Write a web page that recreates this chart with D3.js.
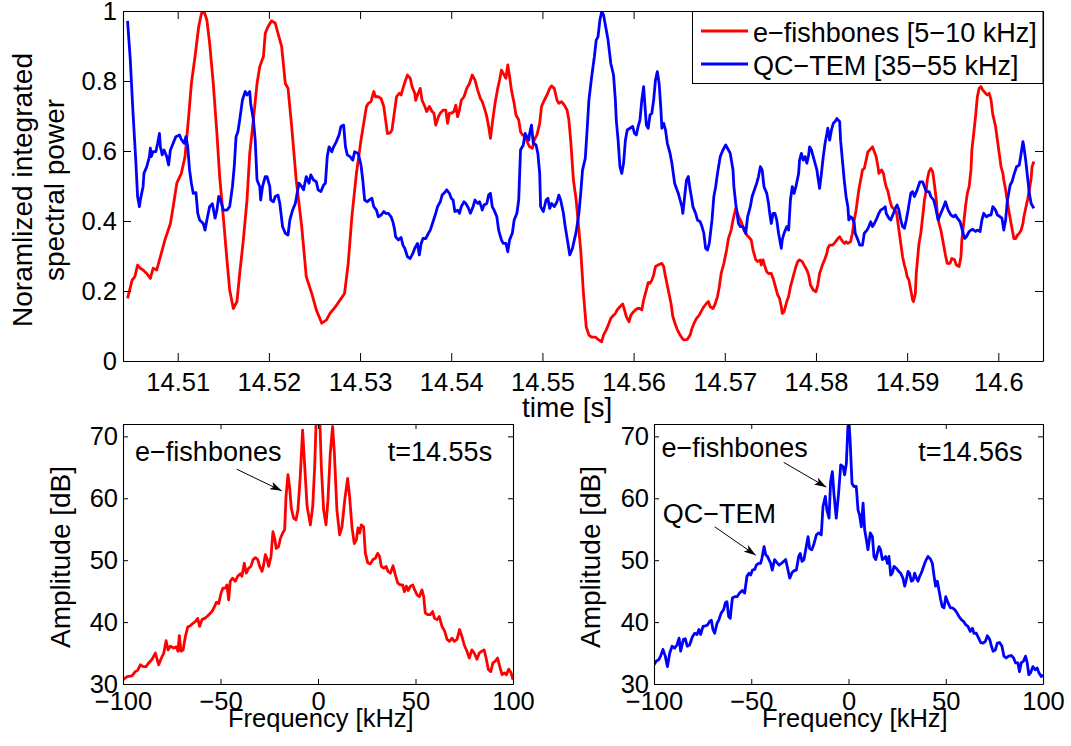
<!DOCTYPE html>
<html><head><meta charset="utf-8">
<script src="https://cdn.jsdelivr.net/npm/d3@7"></script>
<style>
body{margin:0;background:#fff;}
svg text{font-family:"Liberation Sans",Arial,Helvetica,sans-serif;fill:#000;}
</style></head><body>
<script>
// ---------------- DATA ----------------
const timeTicks = [14.51,14.52,14.53,14.54,14.55,14.56,14.57,14.58,14.59,14.60];
const powerTicks = [0,0.2,0.4,0.6,0.8,1];
const freqTicks = [-100,-50,0,50,100];
const ampTicks = [30,40,50,60,70];
const legendLabels = ["e\u2212fishbones [5\u221210 kHz]","QC\u2212TEM [35\u221255 kHz]"];

// e-fishbones [5-10 kHz] : [time (s), normalized power]
const fishbonePower = [
[14.5045,0.179],[14.5050,0.231],[14.5053,0.241],[14.5056,0.274],[14.5059,0.265],[14.5062,0.26],[14.5066,0.25],[14.5070,0.236],[14.5073,0.265],[14.5077,0.26],
[14.5081,0.298],[14.5086,0.346],[14.5092,0.393],[14.5095,0.44],[14.5099,0.508],[14.5104,0.536],[14.5108,0.584],[14.5112,0.698],[14.5115,0.793],[14.5119,0.87],
[14.5123,0.955],[14.5126,0.993],[14.5129,0.998],[14.5132,0.974],[14.5135,0.908],[14.5139,0.793],[14.5143,0.65],[14.5146,0.527],[14.5150,0.412],[14.5154,0.289],
[14.5157,0.203],[14.5161,0.15],[14.5165,0.17],[14.5168,0.25],[14.5172,0.346],[14.5176,0.46],[14.5179,0.593],[14.5183,0.689],[14.5187,0.793],[14.5190,0.841],
[14.5194,0.87],[14.5196,0.936],[14.5199,0.955],[14.5203,0.972],[14.5207,0.965],[14.5210,0.936],[14.5214,0.898],[14.5218,0.793],[14.5221,0.779],[14.5225,0.67],
[14.5230,0.517],[14.5236,0.384],[14.5241,0.241],[14.5247,0.193],[14.5252,0.146],[14.5258,0.108],[14.5263,0.117],[14.5267,0.136],[14.5273,0.155],[14.5278,0.174],
[14.5283,0.193],[14.5287,0.279],[14.5291,0.412],[14.5296,0.536],
[14.5301,0.631],[14.5304,0.679],[14.5307,0.727],[14.5309,0.736],[14.5312,0.741],[14.5315,0.77],[14.5317,0.755],[14.5320,0.755],[14.5323,0.75],[14.5326,0.727],
[14.5328,0.689],[14.5330,0.65],[14.5333,0.652],[14.5335,0.66],[14.5338,0.717],[14.5340,0.755],[14.5343,0.765],[14.5345,0.76],[14.5347,0.779],[14.5350,0.803],
[14.5352,0.817],[14.5355,0.808],[14.5357,0.784],[14.5360,0.765],[14.5361,0.745],[14.5363,0.76],[14.5366,0.779],[14.5368,0.745],[14.5371,0.727],[14.5373,0.713],
[14.5376,0.727],[14.5379,0.713],[14.5381,0.708],[14.5383,0.674],[14.5386,0.698],[14.5388,0.708],[14.5391,0.717],[14.5394,0.717],[14.5396,0.679],[14.5398,0.708],
[14.5400,0.708],[14.5403,0.713],[14.5405,0.731],[14.5407,0.698],[14.5409,0.717],[14.5411,0.745],[14.5414,0.755],[14.5417,0.779],[14.5420,0.793],[14.5423,0.817],
[14.5426,0.803],[14.5429,0.774],[14.5432,0.75],[14.5434,0.741],[14.5437,0.717],[14.5439,0.698],[14.5441,0.67],[14.5443,0.636],[14.5445,0.679],[14.5448,0.736],
[14.5451,0.779],[14.5453,0.803],[14.5455,0.831],[14.5457,0.822],[14.5460,0.808],[14.5462,0.846],[14.5464,0.812],[14.5466,0.774],[14.5469,0.736],[14.5471,0.703],
[14.5474,0.689],[14.5476,0.655],[14.5478,0.646],[14.5481,0.643],[14.5484,0.622],[14.5486,0.612],[14.5489,0.608],[14.5491,0.631],[14.5494,0.646],[14.5497,0.679],
[14.5499,0.727],[14.5502,0.745],[14.5505,0.76],[14.5508,0.779],[14.5510,0.786],[14.5513,0.779],[14.5516,0.745],[14.5518,0.736],[14.5521,0.741],[14.5524,0.731],
[14.5527,0.717],[14.5529,0.689],[14.5531,0.631],[14.5534,0.517],[14.5537,0.46],[14.5539,0.403],[14.5542,0.317],
[14.5545,0.193],[14.5548,0.098],[14.5551,0.074],[14.5554,0.068],[14.5558,0.068],[14.5561,0.062],[14.5565,0.055],[14.5567,0.074],[14.5570,0.089],[14.5573,0.108],
[14.5575,0.122],[14.5578,0.131],[14.5580,0.136],[14.5582,0.146],[14.5585,0.155],[14.5588,0.163],[14.5590,0.146],[14.5592,0.127],[14.5595,0.112],[14.5597,0.131],
[14.5600,0.141],[14.5602,0.146],[14.5604,0.15],[14.5607,0.15],[14.5609,0.146],[14.5611,0.174],[14.5614,0.203],[14.5616,0.224],[14.5618,0.222],[14.5620,0.231],
[14.5622,0.246],[14.5624,0.27],[14.5627,0.274],[14.5631,0.279],[14.5633,0.27],[14.5635,0.241],[14.5638,0.203],[14.5641,0.165],[14.5643,0.127],[14.5646,0.103],
[14.5648,0.089],[14.5651,0.074],[14.5654,0.062],[14.5656,0.06],[14.5659,0.062],[14.5662,0.074],[14.5664,0.093],[14.5667,0.112],[14.5669,0.122],[14.5672,0.131],
[14.5675,0.146],[14.5677,0.155],[14.5680,0.165],[14.5682,0.17],[14.5684,0.155],[14.5687,0.15],[14.5689,0.16],[14.5692,0.184],[14.5694,0.212],[14.5696,0.25],
[14.5699,0.279],[14.5702,0.317],[14.5704,0.35],[14.5707,0.374],[14.5709,0.403],[14.5712,0.436],[14.5714,0.422],[14.5716,0.408],[14.5718,0.398],[14.5721,0.374],
[14.5724,0.36],[14.5726,0.355],[14.5729,0.346],[14.5731,0.317],[14.5734,0.289],[14.5736,0.284],[14.5739,0.289],[14.5740,0.274],[14.5742,0.289],[14.5744,0.27],
[14.5746,0.255],[14.5748,0.25],[14.5751,0.25],[14.5753,0.236],[14.5756,0.208],[14.5758,0.189],[14.5760,0.179],[14.5762,0.155],[14.5763,0.136],[14.5765,0.141],
[14.5768,0.17],[14.5770,0.184],[14.5772,0.212],[14.5775,0.241],[14.5778,0.27],[14.5780,0.284],[14.5782,0.289],[14.5785,0.284],[14.5787,0.274],[14.5790,0.26],
[14.5792,0.246],[14.5794,0.217],[14.5797,0.203],[14.5800,0.198],[14.5802,0.217],[14.5804,0.25],[14.5807,0.274],[14.5810,0.293],[14.5812,0.308],[14.5813,0.322],
[14.5815,0.331],[14.5818,0.331],[14.5820,0.336],[14.5823,0.346],[14.5824,0.35],[14.5826,0.355],
[14.5828,0.346],[14.5831,0.336],[14.5833,0.341],[14.5835,0.336],[14.5838,0.341],[14.5840,0.365],[14.5842,0.403],[14.5844,0.431],[14.5846,0.47],[14.5847,0.489],
[14.5849,0.517],[14.5851,0.546],[14.5853,0.55],[14.5855,0.574],[14.5857,0.598],[14.5859,0.603],[14.5862,0.612],[14.5864,0.598],[14.5866,0.584],[14.5868,0.555],
[14.5869,0.536],[14.5872,0.546],[14.5874,0.536],[14.5876,0.508],[14.5877,0.498],[14.5879,0.484],[14.5881,0.46],[14.5883,0.441],[14.5885,0.436],[14.5888,0.427],
[14.5889,0.412],[14.5891,0.374],[14.5893,0.336],[14.5895,0.298],[14.5897,0.274],[14.5899,0.255],[14.5900,0.241],[14.5902,0.231],[14.5904,0.203],[14.5906,0.174],
[14.5907,0.17],[14.5909,0.193],[14.5910,0.25],[14.5912,0.308],[14.5913,0.336],[14.5915,0.365],[14.5917,0.412],[14.5919,0.46],[14.5921,0.489],[14.5922,0.517],
[14.5924,0.541],[14.5926,0.55],[14.5928,0.541],[14.5930,0.503],[14.5932,0.46],[14.5933,0.422],[14.5935,0.393],[14.5937,0.374],[14.5939,0.346],[14.5941,0.317],
[14.5942,0.303],[14.5944,0.279],[14.5947,0.279],[14.5949,0.293],[14.5952,0.289],[14.5954,0.274],[14.5957,0.27],[14.5959,0.298],[14.5960,0.346],[14.5962,0.393],
[14.5964,0.441],[14.5966,0.479],[14.5968,0.498],[14.5970,0.546],[14.5971,0.603],[14.5973,0.65],[14.5975,0.698],[14.5977,0.755],[14.5979,0.779],[14.5981,0.784],
[14.5983,0.774],[14.5986,0.765],[14.5988,0.76],[14.5990,0.765],[14.5992,0.746],[14.5994,0.703],[14.5995,0.693],[14.5997,0.67],[14.5999,0.631],[14.6001,0.593],
[14.6003,0.555],[14.6005,0.536],[14.6006,0.517],[14.6008,0.489],[14.6010,0.455],[14.6012,0.422],[14.6014,0.393],[14.6016,0.365],[14.6017,0.35],[14.6019,0.35],
[14.6021,0.36],[14.6023,0.365],[14.6025,0.374],[14.6027,0.393],[14.6028,0.412],[14.6030,0.436],[14.6032,0.46],[14.6034,0.489],[14.6036,0.522],[14.6037,0.555],
[14.6039,0.57]
];

// QC-TEM [35-55 kHz] : [time (s), normalized power]
const qcTemPower = [
[14.5045,0.972],[14.5048,0.86],[14.5051,0.708],[14.5054,0.574],[14.5056,0.47],[14.5058,0.441],[14.5059,0.46],[14.5062,0.498],[14.5063,0.536],[14.5066,0.555],
[14.5069,0.584],[14.5070,0.608],[14.5071,0.584],[14.5073,0.598],[14.5076,0.598],[14.5078,0.622],[14.5080,0.65],[14.5081,0.612],[14.5083,0.589],[14.5085,0.603],
[14.5088,0.584],[14.5090,0.56],[14.5092,0.603],[14.5095,0.622],[14.5098,0.641],[14.5102,0.646],[14.5104,0.633],[14.5107,0.622],[14.5109,0.641],[14.5111,0.612],
[14.5113,0.546],[14.5115,0.508],[14.5117,0.479],[14.5120,0.481],[14.5122,0.422],[14.5124,0.403],[14.5128,0.393],[14.5130,0.374],[14.5132,0.403],[14.5135,0.441],
[14.5138,0.449],[14.5141,0.408],[14.5143,0.431],[14.5145,0.47],[14.5147,0.46],[14.5150,0.431],[14.5154,0.431],[14.5157,0.441],[14.5160,0.498],[14.5162,0.555],
[14.5164,0.641],[14.5166,0.655],[14.5168,0.689],[14.5171,0.746],[14.5174,0.77],[14.5176,0.76],[14.5179,0.77],[14.5180,0.736],[14.5183,0.689],[14.5185,0.631],
[14.5187,0.517],[14.5190,0.498],[14.5191,0.46],[14.5193,0.498],[14.5196,0.527],[14.5198,0.527],[14.5201,0.498],[14.5202,0.46],[14.5205,0.455],[14.5207,0.47],
[14.5210,0.474],[14.5212,0.45],[14.5215,0.384],[14.5218,0.365],[14.5221,0.36],[14.5223,0.403],[14.5226,0.431],[14.5229,0.45],[14.5231,0.479],[14.5233,0.508],
[14.5236,0.498],[14.5238,0.489],[14.5241,0.527],[14.5244,0.508],[14.5246,0.532],[14.5249,0.517],[14.5252,0.512],[14.5254,0.489],[14.5257,0.484],[14.5260,0.503],
[14.5262,0.508],[14.5264,0.584],[14.5266,0.612],[14.5269,0.598],[14.5271,0.612],[14.5274,0.627],[14.5277,0.646],[14.5279,0.67],[14.5282,0.674],
[14.5284,0.612],[14.5286,0.589],[14.5289,0.584],[14.5292,0.574],[14.5294,0.598],[14.5298,0.593],[14.5301,0.56],[14.5303,0.517],[14.5305,0.46],[14.5308,0.455],
[14.5310,0.46],[14.5313,0.465],[14.5315,0.441],[14.5318,0.431],[14.5320,0.412],[14.5323,0.417],[14.5326,0.427],[14.5328,0.422],[14.5331,0.422],[14.5334,0.412],
[14.5336,0.398],[14.5338,0.374],[14.5339,0.355],[14.5342,0.346],[14.5345,0.353],[14.5347,0.331],[14.5349,0.322],[14.5352,0.298],[14.5355,0.293],[14.5358,0.308],
[14.5360,0.322],[14.5363,0.336],[14.5365,0.303],[14.5367,0.336],[14.5369,0.35],[14.5372,0.35],[14.5375,0.365],[14.5377,0.374],[14.5380,0.398],[14.5383,0.422],
[14.5385,0.441],[14.5388,0.455],[14.5390,0.474],[14.5392,0.479],[14.5395,0.489],[14.5398,0.479],[14.5400,0.465],[14.5402,0.46],[14.5404,0.427],[14.5407,0.431],
[14.5409,0.422],[14.5411,0.441],[14.5414,0.455],[14.5416,0.45],[14.5419,0.436],[14.5421,0.422],[14.5424,0.441],[14.5426,0.46],[14.5429,0.45],[14.5431,0.455],
[14.5433,0.441],[14.5434,0.431],[14.5436,0.446],[14.5439,0.45],[14.5441,0.474],[14.5443,0.479],[14.5445,0.441],[14.5447,0.431],[14.5450,0.412],[14.5452,0.374],
[14.5455,0.346],[14.5457,0.336],[14.5460,0.336],[14.5462,0.312],[14.5464,0.346],[14.5467,0.365],[14.5469,0.403],[14.5472,0.422],[14.5474,0.46],[14.5476,0.603],
[14.5479,0.617],[14.5481,0.65],[14.5483,0.641],[14.5485,0.631],[14.5486,0.65],[14.5488,0.674],[14.5490,0.622],[14.5493,0.617],[14.5495,0.593],[14.5497,0.536],
[14.5498,0.441],[14.5501,0.427],[14.5504,0.46],[14.5506,0.465],[14.5508,0.436],[14.5510,0.45],[14.5513,0.441],[14.5516,0.455],[14.5518,0.474],[14.5520,0.46],
[14.5523,0.422],[14.5525,0.384],[14.5528,0.336],[14.5530,0.303],[14.5533,0.322],[14.5535,0.346],[14.5537,0.369],[14.5540,0.422],[14.5542,0.479],[14.5544,0.546],
[14.5547,0.579],[14.5549,0.66],[14.5551,0.746],[14.5554,0.812],[14.5557,0.87],[14.5559,0.917],[14.5561,0.927],
[14.5563,0.974],[14.5565,0.998],[14.5567,0.989],[14.5570,0.946],[14.5572,0.917],[14.5575,0.85],[14.5578,0.817],[14.5580,0.746],[14.5581,0.689],[14.5583,0.631],
[14.5585,0.555],[14.5587,0.536],[14.5589,0.565],[14.5591,0.631],[14.5593,0.66],[14.5596,0.665],[14.5599,0.67],[14.5601,0.65],[14.5603,0.646],[14.5605,0.67],
[14.5607,0.689],[14.5609,0.746],[14.5611,0.784],[14.5612,0.746],[14.5614,0.674],[14.5616,0.665],[14.5618,0.703],[14.5620,0.708],[14.5622,0.746],[14.5624,0.803],
[14.5626,0.827],[14.5628,0.793],[14.5630,0.717],[14.5631,0.665],[14.5633,0.679],[14.5635,0.66],[14.5637,0.622],[14.5640,0.593],[14.5642,0.565],[14.5645,0.508],
[14.5647,0.493],[14.5649,0.479],[14.5651,0.46],[14.5653,0.441],[14.5654,0.422],[14.5656,0.47],[14.5658,0.517],[14.5660,0.527],[14.5662,0.489],[14.5664,0.46],
[14.5665,0.441],[14.5668,0.422],[14.5670,0.403],[14.5673,0.398],[14.5675,0.384],[14.5677,0.365],[14.5679,0.322],[14.5681,0.317],[14.5683,0.336],[14.5686,0.403],
[14.5688,0.47],[14.5690,0.498],[14.5692,0.536],[14.5695,0.584],[14.5698,0.603],[14.5701,0.617],[14.5704,0.603],[14.5706,0.593],[14.5709,0.546],[14.5710,0.498],
[14.5712,0.45],[14.5715,0.393],[14.5717,0.384],[14.5720,0.384],[14.5723,0.365],[14.5725,0.412],[14.5728,0.441],[14.5730,0.47],[14.5733,0.493],[14.5735,0.508],
[14.5737,0.527],[14.5739,0.555],[14.5741,0.546],[14.5743,0.498],[14.5746,0.479],[14.5748,0.45],[14.5749,0.427],[14.5751,0.393],[14.5753,0.422],[14.5755,0.422],
[14.5757,0.403],[14.5759,0.365],[14.5762,0.322],[14.5763,0.346],[14.5765,0.365],[14.5768,0.384],[14.5770,0.374],[14.5772,0.46],[14.5774,0.498],[14.5776,0.479],
[14.5778,0.498],[14.5781,0.536],[14.5782,0.574],[14.5784,0.593],[14.5786,0.574],[14.5788,0.584],[14.5790,0.565],[14.5792,0.589],[14.5793,0.612],[14.5795,0.603],
[14.5797,0.584],[14.5799,0.565],[14.5801,0.546],[14.5802,0.527],[14.5804,0.493],[14.5806,0.536],[14.5808,0.584],[14.5810,0.622],[14.5812,0.65],[14.5813,0.665],
[14.5815,0.631],[14.5817,0.66],[14.5819,0.679],[14.5821,0.684],[14.5823,0.693],[14.5824,0.689],
[14.5826,0.684],[14.5827,0.631],[14.5829,0.574],[14.5831,0.517],[14.5833,0.47],[14.5835,0.441],[14.5836,0.403],[14.5838,0.412],[14.5840,0.408],[14.5842,0.393],
[14.5843,0.365],[14.5846,0.346],[14.5848,0.331],[14.5851,0.331],[14.5853,0.365],[14.5856,0.374],[14.5858,0.384],[14.5860,0.398],[14.5862,0.384],[14.5864,0.393],
[14.5866,0.403],[14.5869,0.422],[14.5871,0.431],[14.5874,0.436],[14.5876,0.441],[14.5877,0.422],[14.5880,0.408],[14.5882,0.403],[14.5885,0.422],[14.5887,0.436],
[14.5889,0.446],[14.5891,0.431],[14.5893,0.403],[14.5895,0.384],[14.5897,0.379],[14.5899,0.403],[14.5901,0.431],[14.5904,0.479],[14.5906,0.484],[14.5908,0.47],
[14.5911,0.489],[14.5914,0.512],[14.5917,0.512],[14.5919,0.498],[14.5921,0.484],[14.5924,0.484],[14.5926,0.47],[14.5929,0.46],[14.5931,0.441],[14.5934,0.403],
[14.5937,0.422],[14.5940,0.441],[14.5942,0.455],[14.5945,0.431],[14.5948,0.417],[14.5951,0.412],[14.5953,0.417],[14.5955,0.408],[14.5958,0.398],[14.5960,0.379],
[14.5963,0.35],[14.5965,0.355],[14.5968,0.37],[14.5970,0.374],[14.5972,0.376],[14.5975,0.37],[14.5977,0.374],[14.5980,0.37],[14.5982,0.403],[14.5984,0.422],
[14.5987,0.412],[14.5990,0.417],[14.5992,0.417],[14.5994,0.441],[14.5997,0.431],[14.5999,0.417],[14.6002,0.412],[14.6004,0.408],[14.6006,0.374],[14.6008,0.403],
[14.6010,0.46],[14.6013,0.503],[14.6015,0.512],[14.6017,0.531],[14.6020,0.555],[14.6023,0.56],[14.6025,0.593],[14.6027,0.627],[14.6028,0.612],[14.6030,0.574],
[14.6032,0.527],[14.6034,0.479],[14.6036,0.45],[14.6039,0.436]
];

// Spectrum at t=14.55 s : [frequency (kHz), amplitude (dB)]
const spectrum1455 = [
[-100,30.7],[-97.9,31.2],[-95.4,31.3],[-93.7,32.0],[-92.5,32.2],[-91.1,33.1],[-89.7,32.8],[-88.2,32.8],[-86.8,33.4],[-85.1,34.0],
[-83.4,35.0],[-81.7,33.1],[-80.3,34.2],[-79.1,35.0],[-77.9,37.0],[-76.9,35.5],[-75.7,36.1],[-74.0,35.8],[-72.6,36.0],[-71.8,35.3],
[-71.1,37.8],[-70.3,35.3],[-69.2,35.5],[-68.0,37.7],[-66.8,39.2],[-65.5,39.4],[-64.1,39.8],[-62.9,40.1],[-61.7,40.6],[-60.7,39.3],
[-59.5,40.4],[-58.1,40.6],[-56.9,40.9],[-55.6,41.3],[-54.4,41.7],[-53.2,42.4],[-52.1,43.2],[-50.9,43.0],[-49.7,44.7],[-48.7,45.5],
[-47.5,45.5],[-46.7,46.0],[-45.8,43.6],[-45.0,46.6],[-43.8,47.1],[-42.4,46.6],[-41.2,47.4],[-39.8,47.8],[-39.0,47.4],[-37.8,49.5],
[-36.8,47.9],[-35.6,48.7],[-34.4,49.0],[-33.3,50.1],[-32.1,50.4],[-30.9,50.1],[-29.9,49.0],[-28.7,48.2],[-27.9,49.2],[-27.0,50.9],
[-26.2,50.3],[-25.3,49.0],[-24.1,50.6],[-23.1,54.6],[-22.2,53.5],[-21.4,51.9],[-20.2,52.2],[-19.3,53.5],[-18.1,54.4],[-17.1,54.9],
[-16.4,60.3],[-15.4,63.8],[-14.5,61.6],[-13.7,58.4],[-12.5,56.8],[-11.3,56.5],[-10.3,58.1],[-9.1,63.5],[-7.9,71.0],[-6.8,65.1],
[-5.6,58.7],[-3.9,55.7],[-2.7,58.7],[-1.7,65.1],[0,82],[1.7,65.1],[2.9,58.1],[4.1,55.7],[5.1,59.7],[6.3,67.3],
[7.5,71.6],[8.4,67.3],[9.7,58.1],[11.1,54.1],[12.3,55.4],[13.7,59.7],[15.2,63.2],[16.2,60.3],[17.4,55.4],[18.6,52.7],
[19.7,53.3],[20.5,55.2],[21.4,54.4],[22.2,55.7],[23.4,55.4],[24.3,51.1],[25.5,49.6],[26.8,49.4],[28.2,50.1],[29.4,50.3],
[30.6,51.1],[31.6,50.6],[32.5,49.0],[33.7,48.7],[34.9,49.0],[35.9,48.2],[37.1,47.9],[38.5,49.1],[39.7,47.6],[40.9,46.3],
[42.2,46.0],[43.4,46.0],[44.3,44.9],[45.3,45.8],[46.2,45.1],[47.4,45.8],[48.6,46.0],[49.6,45.2],[50.8,44.4],[52.0,44.1],
[53.3,45.2],[54.2,44.1],[55.0,41.5],[56.2,41.2],[57.6,41.2],[58.8,41.7],[59.8,40.6],[61.0,40.4],[62.2,40.9],[63.6,39.3],
[65.0,38.5],[66.2,37.2],[67.4,36.9],[68.7,37.4],[69.9,36.9],[71.3,37.2],[72.6,38.8],[73.8,37.7],[75.0,36.3],[76.4,35.3],
[77.6,34.2],[78.9,35.5],[80.1,35.0],[81.5,34.0],[82.7,35.0],[84.0,35.3],[85.2,35.5],[86.2,34.2],[87.4,32.3],[88.6,32.0],
[89.7,33.4],[90.9,33.7],[92.1,34.2],[93.2,32.8],[94.4,31.5],[95.6,31.8],[96.6,31.5],[97.8,32.4],[99.0,31.8],[100,30.7]
];

// Spectrum at t=14.56 s : [frequency (kHz), amplitude (dB)]
const spectrum1456 = [
[-100,33.1],[-98.8,33.7],[-97.6,33.9],[-96.6,34.5],[-95.4,35.6],[-94.2,34.5],[-93.1,32.8],[-91.9,35.0],[-90.7,36.1],[-89.4,35.8],
[-88.2,36.3],[-87.1,37.4],[-86.3,35.3],[-84.9,37.2],[-83.9,37.3],[-82.9,36.1],[-81.7,36.3],[-80.3,37.6],[-79.1,38.2],[-77.9,38.0],
[-76.9,38.8],[-76.0,38.0],[-74.8,39.3],[-73.6,39.4],[-72.6,39.5],[-71.4,40.1],[-70.5,40.3],[-69.7,38.8],[-68.8,38.2],[-67.6,39.8],
[-66.6,40.4],[-65.4,41.5],[-64.2,42.0],[-63.3,43.1],[-62.5,43.3],[-61.6,40.9],[-60.8,40.6],[-59.7,43.9],[-58.5,44.1],[-57.3,44.1],
[-56.0,44.7],[-54.6,45.1],[-53.4,44.7],[-52.2,47.4],[-51.2,47.9],[-50.3,47.6],[-49.4,48.4],[-48.2,48.5],[-47.4,49.2],[-46.2,49.5],
[-45.2,49.5],[-44.5,50.3],[-43.4,52.2],[-42.6,50.9],[-41.7,50.6],[-40.9,50.1],[-40.0,49.5],[-39.2,48.4],[-38.0,50.1],[-36.8,49.6],
[-35.7,49.2],[-34.5,49.5],[-33.3,49.8],[-32.3,50.1],[-31.1,48.4],[-30.2,47.1],[-29.0,48.0],[-28.0,48.3],[-26.8,48.4],[-25.6,50.6],
[-24.8,51.1],[-23.9,49.8],[-22.9,50.1],[-21.7,52.2],[-20.8,53.8],[-20.0,51.9],[-18.8,51.7],[-17.7,52.7],[-16.5,54.1],[-15.3,54.4],
[-14.0,54.1],[-13.1,58.7],[-11.9,60.3],[-11.1,58.1],[-10.0,56.8],[-9.2,62.7],[-8.3,64.3],[-7.5,60.8],[-6.3,56.8],[-5.1,60.8],
[-4.0,65.4],[-2.8,65.1],[-2.0,63.8],[-1.1,65.6],[-0.3,71.6],[0.3,72.1],[0.9,68.9],[1.8,62.4],[2.8,61.9],[4.0,61.9],
[4.9,58.1],[5.7,57.3],[6.6,55.4],[7.5,59.2],[8.3,54.9],[9.2,53.3],[10.0,51.7],[11.2,54.4],[12.3,53.8],[13.1,50.6],
[14.0,50.1],[14.8,51.1],[15.7,52.2],[16.5,51.7],[17.4,50.1],[18.3,50.3],[19.1,50.6],[20.0,49.5],[20.8,50.6],[21.7,47.6],
[22.5,47.9],[23.4,49.0],[24.6,48.7],[25.8,48.2],[26.8,47.9],[28.0,47.1],[28.9,45.8],[29.7,46.8],[30.6,48.2],[31.4,47.9],
[32.3,46.6],[33.2,46.8],[34.0,47.9],[34.9,47.1],[35.7,46.6],[36.6,47.4],[37.4,47.9],[38.3,48.7],[39.2,49.5],[40.0,50.1],
[40.9,50.6],[42.1,50.2],[43.1,49.5],[44.0,47.4],[44.8,45.8],[45.7,46.6],[46.5,45.2],[47.4,43.6],[48.2,42.5],[49.1,42.3],
[50.0,44.1],[51.2,43.1],[52.4,42.3],[53.4,42.3],[54.6,42.0],[55.8,41.5],[56.8,40.9],[58.0,40.4],[59.2,40.1],[60.2,39.6],
[61.4,39.3],[62.6,38.5],[63.7,39.0],[64.5,38.2],[65.7,38.2],[66.9,37.4],[68.0,36.7],[69.2,36.6],[70.4,36.9],[71.4,37.8],
[72.6,37.2],[73.5,36.1],[74.3,35.3],[75.5,35.5],[76.5,36.6],[77.7,36.7],[78.9,36.1],[79.9,34.5],[81.1,34.2],[82.3,34.5],
[83.7,34.6],[84.9,34.2],[85.9,33.4],[87.1,33.4],[87.9,32.0],[88.8,33.4],[90.0,33.7],[91.0,34.5],[91.9,33.4],[92.7,31.5],
[93.6,31.8],[94.8,32.8],[96.0,32.3],[97.0,32.6],[97.9,31.8],[99.1,31.2],[100,31.5]
];

// annotations: [label, textFreq, textAmp, arrowFromFreq, arrowFromAmp, arrowToFreq, arrowToAmp]
const notes1455 = [["e\u2212fishbones",-93.8,66.0,-41.7,64.7,-18.6,61.2]];
const notes1456 = [["e\u2212fishbones",-96.2,66.7,-33.3,65.8,-11.4,61.8],["QC\u2212TEM",-95.5,56.0,-68.8,55.4,-47.7,50.8]];

// ---------------- DRAW ----------------
const W = 1071, H = 746;
const FS = 25.5;      // tick labels, frequency label
const FS_LAB = 28;    // y labels, time label
const FS_TXT = 27;    // legend and annotations
const LW = 2.8;       // data line width
const svg = d3.select("body").append("svg").attr("width", W).attr("height", H);
svg.append("rect").attr("width", W).attr("height", H).attr("fill", "#fff");

const defs = svg.append("defs");
defs.append("marker").attr("id","arrow").attr("viewBox","0 0 12 8").attr("refX",12).attr("refY",4)
  .attr("markerWidth",12).attr("markerHeight",8).attr("markerUnits","userSpaceOnUse").attr("orient","auto")
  .append("path").attr("d","M0,0 L12,4 L0,8 L3,4 Z").attr("fill","#000");

const minusFmt = d => (d < 0 ? "\u2212" + Math.abs(d) : String(d));

function frame(id, x, y, xTicks, yTicks, xFmt, yFmt, tick, xPad, yPad) {
  const g = svg.append("g");
  const [x0, x1] = x.range(), [y0, y1] = y.range();
  defs.append("clipPath").attr("id", id).append("rect")
    .attr("x", x0).attr("y", y1).attr("width", x1 - x0).attr("height", y0 - y1);
  const axes = [
    g.append("g").attr("transform", `translate(0,${y0})`).call(d3.axisBottom(x).tickValues(xTicks).tickFormat(xFmt).tickSizeInner(-tick).tickSizeOuter(0).tickPadding(xPad)),
    g.append("g").attr("transform", `translate(0,${y1})`).call(d3.axisTop(x).tickValues(xTicks).tickFormat("").tickSizeInner(-tick).tickSizeOuter(0)),
    g.append("g").attr("transform", `translate(${x0},0)`).call(d3.axisLeft(y).tickValues(yTicks).tickFormat(yFmt).tickSizeInner(-tick).tickSizeOuter(0).tickPadding(yPad)),
    g.append("g").attr("transform", `translate(${x1},0)`).call(d3.axisRight(y).tickValues(yTicks).tickFormat("").tickSizeInner(-tick).tickSizeOuter(0))
  ];
  axes.forEach(a => {
    a.select(".domain").attr("stroke", "#000").attr("stroke-width", 1.1);
    a.selectAll(".tick line").attr("stroke", "#000").attr("stroke-width", 1);
    a.selectAll(".tick text").attr("font-size", FS).attr("fill", "#000")
      .attr("font-family", '"Liberation Sans",Arial,sans-serif');
  });
  return g;
}

function trace(clipId, data, x, y, color) {
  svg.append("path").datum(data)
    .attr("clip-path", `url(#${clipId})`)
    .attr("fill", "none").attr("stroke", color).attr("stroke-width", LW)
    .attr("stroke-linejoin", "round")
    .attr("d", d3.line().x(d => x(d[0])).y(d => y(d[1])));
}

// ---- top panel
const xT = d3.scaleLinear().domain([14.504, 14.6049]).range([123, 1043]);
const yT = d3.scaleLinear().domain([0, 1]).range([361, 11]);
trace("clipTop", fishbonePower, xT, yT, "#ff0000");
trace("clipTop", qcTemPower, xT, yT, "#0000ff");
frame("clipTop", xT, yT, timeTicks, powerTicks, d => String(+d.toFixed(2)), d => String(+d.toFixed(1)), 8, 12, 6);

svg.append("text").attr("x", 522).attr("y", 417).attr("font-size", FS_LAB).text("time [s]");
svg.append("text").attr("transform", "translate(32,190) rotate(-90)").attr("text-anchor", "middle")
  .attr("font-size", FS_LAB).text("Noramlized integrated");
svg.append("text").attr("transform", "translate(64,190) rotate(-90)").attr("text-anchor", "middle")
  .attr("font-size", FS_LAB).text("spectral power");

// legend
const leg = svg.append("g");
leg.append("rect").attr("x", 692.5).attr("y", 11.5).attr("width", 350.5).attr("height", 72)
  .attr("fill", "#fff").attr("stroke", "#000").attr("stroke-width", 1);
[["#ff0000", 31, 42], ["#0000ff", 64, 75]].forEach((r, i) => {
  leg.append("line").attr("x1", 701).attr("x2", 748).attr("y1", r[1]).attr("y2", r[1])
    .attr("stroke", r[0]).attr("stroke-width", LW);
  leg.append("text").attr("x", 753).attr("y", r[2]).attr("font-size", FS_TXT).text(legendLabels[i]);
});

// ---- bottom panels
function spectrumPanel(id, data, color, x0, x1, label, notes, ylabX, xlabX) {
  const x = d3.scaleLinear().domain([-100, 100]).range([x0, x1]);
  const y = d3.scaleLinear().domain([30, 72]).range([684, 424]);
  trace(id, data, x, y, color);
  frame(id, x, y, freqTicks, ampTicks, minusFmt, d => String(d), 5, 8, 5);
  svg.append("text").attr("x", xlabX).attr("y", 727).attr("font-size", FS).text("Frequency [kHz]");
  svg.append("text").attr("transform", `translate(${ylabX},557) rotate(-90)`).attr("text-anchor", "middle")
    .attr("font-size", FS_LAB).text("Amplitude [dB]");
  svg.append("text").attr("x", x(35.8)).attr("y", y(66.1)).attr("font-size", FS_TXT).text(label);
  notes.forEach(n => {
    svg.append("text").attr("x", x(n[1])).attr("y", y(n[2])).attr("font-size", FS_TXT).text(n[0]);
    svg.append("line").attr("x1", x(n[3])).attr("y1", y(n[4])).attr("x2", x(n[5])).attr("y2", y(n[6]))
      .attr("stroke", "#000").attr("stroke-width", 1).attr("marker-end", "url(#arrow)");
  });
}
spectrumPanel("clipL", spectrum1455, "#ff0000", 123, 513, "t=14.55s", notes1455, 70, 228);
spectrumPanel("clipR", spectrum1456, "#0000ff", 654, 1043, "t=14.56s", notes1456, 600, 762);
</script>
</body></html>
